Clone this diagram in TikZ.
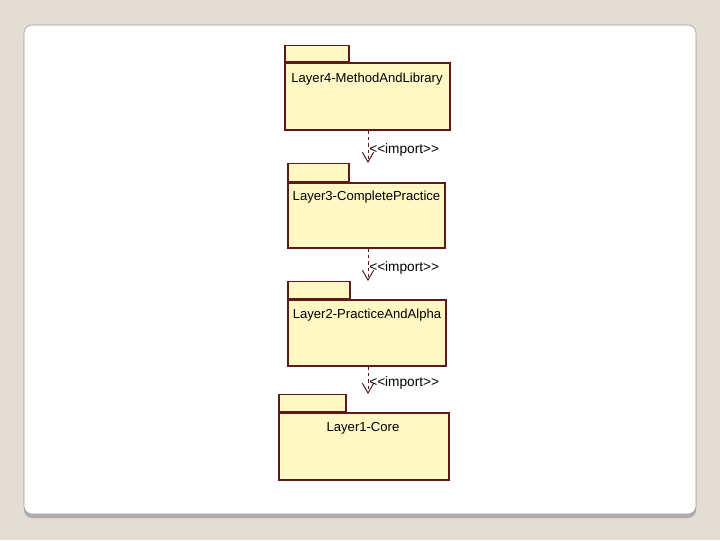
\documentclass[tikz,border=0pt]{standalone}
\usepackage{fontspec}
\setmainfont{Liberation Sans}
\usepackage{tikz}
\usetikzlibrary{arrows.meta,positioning,calc}

\definecolor{pagebg}{HTML}{E3DDD3}
\definecolor{pkgfill}{HTML}{FFF8C4}
\definecolor{pkgline}{HTML}{5E1A1A}
\definecolor{panelline}{HTML}{9A9A96}

\newcommand{\importtxt}{<\kern0pt<import>\kern0pt>}

\tikzset{
  pkgbody/.style={draw=pkgline, fill=pkgfill, line width=0.9pt, inner sep=0pt},
  pkgtab/.style={draw=pkgline, fill=pkgfill, line width=0.9pt, inner sep=0pt, anchor=south west},
  pkgname/.style={font=\fontsize{9.3}{11}\selectfont, text=black, inner sep=0pt},
  importdep/.style={draw=pkgline, line width=0.6pt, dash pattern=on 2.5pt off 2pt,
    -{Straight Barb[length=7pt, width=8pt, line width=0.7pt]}},
  importlabel/.style={font=\fontsize{9.7}{11}\selectfont, anchor=west, inner sep=0pt}
}

\begin{document}
\begin{tikzpicture}[x=0.025cm, y=-0.025cm, >=Stealth]
  % Page and slide panel
  \fill[pagebg] (0,0) rectangle (720,540);
  \fill[gray!65, rounded corners=0.2cm] (24,30) rectangle (696,518);
  \filldraw[fill=white, draw=panelline, rounded corners=0.2cm] (24,25) rectangle (696,514);

  % Layer 4 package
  \node[pkgbody, minimum width=4.125cm, minimum height=1.675cm] (l4) at (367.5,96.5) {};
  \node[pkgtab, minimum width=1.6cm, minimum height=0.4cm] (l4tab) at (l4.north west) {};
  \node[pkgname] (l4name) at (367,79.5) {Layer4-MethodAndLibrary};

  % Layer 3 package
  \node[pkgbody, minimum width=3.925cm, minimum height=1.625cm] (l3) at (366.5,215.5) {};
  \node[pkgtab, minimum width=1.525cm, minimum height=0.45cm] (l3tab) at (l3.north west) {};
  \node[pkgname] (l3name) at (366.5,197.5) {Layer3-CompletePractice};

  % Layer 2 package
  \node[pkgbody, minimum width=3.95cm, minimum height=1.65cm] (l2) at (367,333) {};
  \node[pkgtab, minimum width=1.55cm, minimum height=0.425cm] (l2tab) at (l2.north west) {};
  \node[pkgname] (l2name) at (367,315.5) {Layer2-PracticeAndAlpha};

  % Layer 1 package
  \node[pkgbody, minimum width=4.25cm, minimum height=1.675cm] (l1) at (364,446.5) {};
  \node[pkgtab, minimum width=1.675cm, minimum height=0.425cm] (l1tab) at (l1.north west) {};
  \node[pkgname] (l1name) at (363,428.5) {Layer1-Core};

  % Import dependencies
  \coordinate (depx) at (368,0);
  \draw[importdep] (l4.south -| depx) -- (l3tab.north -| depx) coordinate[pos=0.5] (d43);
  \draw[importdep] (l3.south -| depx) -- (l2tab.north -| depx) coordinate[pos=0.5] (d32);
  \draw[importdep] (l2.south -| depx) -- (l1tab.north -| depx) coordinate[pos=0.5] (d21);

  % Labels
  \node[importlabel] (imp43) at ($(d43)+(1,3)$) {\importtxt};
  \node[importlabel] (imp32) at ($(d32)+(1,3)$) {\importtxt};
  \node[importlabel] (imp21) at ($(d21)+(1,3)$) {\importtxt};
\end{tikzpicture}
\end{document}
